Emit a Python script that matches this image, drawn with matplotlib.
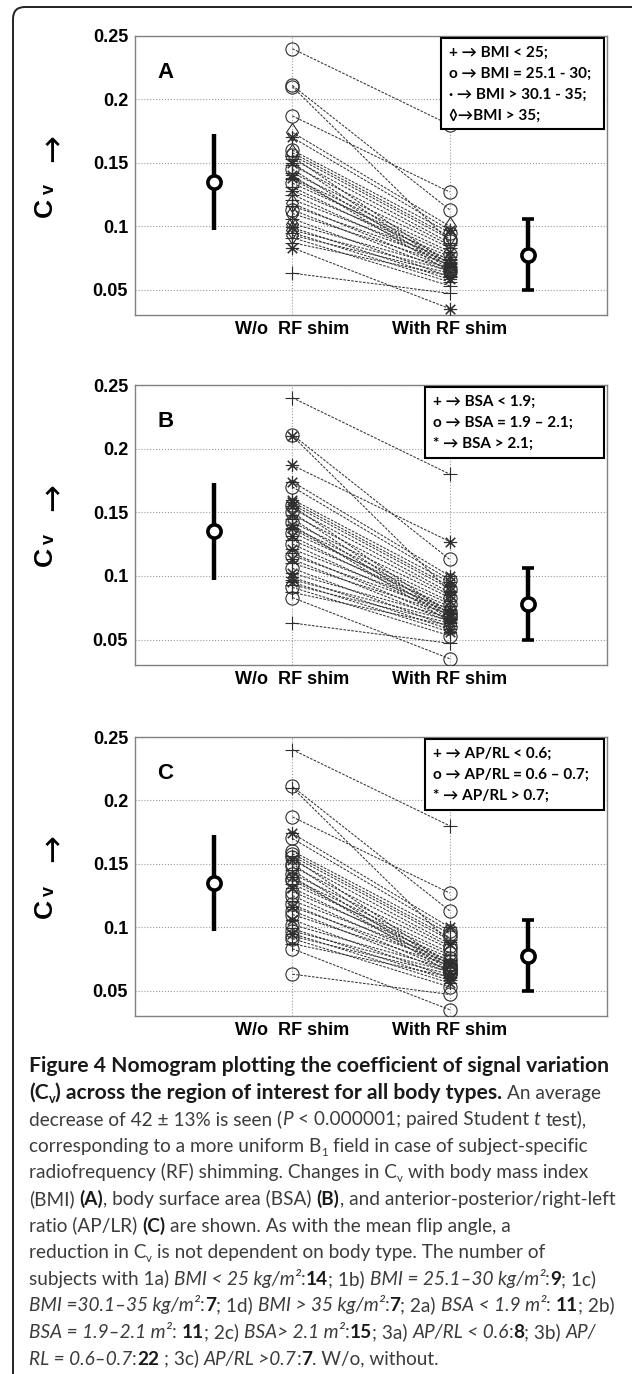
import matplotlib
matplotlib.use("Agg")
import matplotlib.pyplot as plt
from matplotlib.patches import FancyBboxPatch, Rectangle
from matplotlib.transforms import IdentityTransform
from matplotlib.font_manager import FontProperties

# C_v per subject (same 37 subjects in every panel)
cv_without = [0.240, 0.211, 0.210, 0.187, 0.174, 0.170, 0.160, 0.158, 0.156, 0.155,
              0.153, 0.150, 0.148, 0.145, 0.142, 0.140, 0.138, 0.137, 0.134, 0.131,
              0.128, 0.125, 0.121, 0.118, 0.116, 0.113, 0.110, 0.106, 0.102, 0.099,
              0.097, 0.095, 0.093, 0.091, 0.087, 0.083, 0.063]
cv_with = [0.180, 0.113, 0.088, 0.127, 0.100, 0.097, 0.095, 0.092, 0.090, 0.070,
           0.087, 0.068, 0.085, 0.066, 0.083, 0.064, 0.080, 0.073, 0.078, 0.071,
           0.076, 0.069, 0.074, 0.066, 0.072, 0.064, 0.070, 0.060, 0.067, 0.058,
           0.065, 0.056, 0.063, 0.053, 0.061, 0.035, 0.047]

# marker group of each subject per panel ('*' = MATLAB-style asterisk)
bmi_group = ['o', 'o', 'o', 'o', 'd', '*', 'o', 'd', 'o', '+', '+', '*', '+', 'o', '+', '*', '*', '+', 'o',
             '+', '*', '+', '+', 'd', '+', 'o', 'd', '+', 'd', '*', 'd', '+', 'd', '+', '+', '*', '+']
bsa_group = ['+', 'o', '*', '*', '*', 'o', '*', '*', 'o', '*', '+', 'o', '*', '+', 'o', '*', '*', '+', 'o',
             '*', '+', 'o', '*', '+', 'o', '*', '+', 'o', '*', '*', '+', '*', '+', 'o', '+', 'o', '+']
aprl_group = ['+', 'o', '+', 'o', '*', 'o', 'o', 'o', '+', 'o', '*', 'o', 'o', '+', 'o', '*', 'o', 'o', '+',
              '*', 'o', 'o', '+', 'o', '*', 'o', 'o', '*', 'o', '+', 'o', '*', 'o', 'o', '+', 'o', 'o']

# group summary (mean, lower, upper)
summary_without = (0.135, 0.097, 0.173)
summary_with = (0.0776, 0.050, 0.106)

conditions = ["W/o  RF shim", "With RF shim"]
yticks = [0.05, 0.1, 0.15, 0.2, 0.25]
ytick_labels = ["0.05", "0.1", "0.15", "0.2", "0.25"]

legend_bmi = ["+ \u2192 BMI < 25;", "o \u2192 BMI = 25.1 - 30;", "\u00b7 \u2192 BMI > 30.1 - 35;", "\u25ca\u2192BMI > 35;"]
legend_bsa = ["+ \u2192 BSA < 1.9;", "o \u2192 BSA = 1.9 \u2013 2.1;", "* \u2192 BSA > 2.1;"]
legend_aprl = ["+ \u2192 AP/RL < 0.6;", "o \u2192 AP/RL = 0.6 \u2013 0.7;", "* \u2192 AP/RL > 0.7;"]

# caption runs: H = bold heading, b = inline bold, r = regular, i = italic, *sub = subscript
caption = [
    [("Figure 4 Nomogram plotting the coefficient of signal variation", "H")],
    [("(C", "H"), ("v", "Hsub"), (") across the region of interest for all body types.", "H"), (" An average", "r")],
    [("decrease of 42 \u00b1 13% is seen (", "r"), ("P", "i"), (" < 0.000001; paired Student ", "r"),
     ("t", "i"), (" test),", "r")],
    [("corresponding to a more uniform B", "r"), ("1", "rsub"), (" field in case of subject-specific", "r")],
    [("radiofrequency (RF) shimming. Changes in C", "r"), ("v", "rsub"), (" with body mass index", "r")],
    [("(BMI) ", "r"), ("(A)", "b"), (", body surface area (BSA) ", "r"), ("(B)", "b"),
     (", and anterior-posterior/right-left", "r")],
    [("ratio (AP/LR) ", "r"), ("(C)", "b"), (" are shown. As with the mean flip angle, a", "r")],
    [("reduction in C", "r"), ("v", "rsub"), (" is not dependent on body type. The number of", "r")],
    [("subjects with 1a) ", "r"), ("BMI < 25 kg/m\u00b2", "i"), (":", "r"), ("14", "b"), ("; 1b) ", "r"),
     ("BMI = 25.1\u201330 kg/m\u00b2", "i"), (":", "r"), ("9", "b"), ("; 1c)", "r")],
    [("BMI =30.1\u201335 kg/m\u00b2", "i"), (":", "r"), ("7", "b"), ("; 1d) ", "r"), ("BMI > 35 kg/m\u00b2", "i"),
     (":", "r"), ("7", "b"), ("; 2a) ", "r"), ("BSA < 1.9 m\u00b2", "i"), (": ", "r"), ("11", "b"), ("; 2b)", "r")],
    [("BSA = 1.9\u20132.1 m\u00b2", "i"), (": ", "r"), ("11", "b"), ("; 2c) ", "r"), ("BSA> 2.1 m\u00b2", "i"),
     (":", "r"), ("15", "b"), ("; 3a) ", "r"), ("AP/RL < 0.6", "i"), (":", "r"), ("8", "b"), ("; 3b) ", "r"),
     ("AP/", "i")],
    [("RL = 0.6\u20130.7", "i"), (":", "r"), ("22", "b"), (" ; 3c) ", "r"), ("AP/RL >0.7", "i"), (":", "r"),
     ("7", "b"), (". W/o, without.", "r")],
]

W, H = 632, 1374
fig = plt.figure(figsize=(W / 100, H / 100), dpi=100)

AX_FONT = ["Liberation Sans", "DejaVu Sans"]
LEG_FONT = ["Lato", "DejaVu Sans"]
MARKERS = {"o": "o", "+": "+", "d": "d", "*": (8, 2, 0)}

# (top px, bottom px, groups, legend, box, text x, letter)
panels = [
    (36, 315, bmi_group, legend_bmi, (0.648, 0.667, 0.346, 0.326), 0.665, "A"),
    (385, 665, bsa_group, legend_bsa, (0.614, 0.739, 0.380, 0.254), 0.631, "B"),
    (737, 1016, aprl_group, legend_aprl, (0.614, 0.739, 0.380, 0.254), 0.631, "C"),
]

for top, bot, groups, leg, box, tx, letter in panels:
    ax = fig.add_axes([135 / W, 1 - bot / H, 472 / W, (bot - top) / H])
    ax.set_xlim(0, 3)
    ax.set_ylim(0.03, 0.25)

    for b, a in zip(cv_without, cv_with):
        ax.plot([1, 2], [b, a], ls=(0, (2.5, 1.3)), lw=0.75, color="#333333", zorder=2)
    for m in sorted(set(groups)):
        yb = [v for v, g in zip(cv_without, groups) if g == m]
        ya = [v for v, g in zip(cv_with, groups) if g == m]
        ax.plot([1] * len(yb) + [2] * len(ya), yb + ya, ls="none", marker=MARKERS[m], ms=9.5,
                mfc="none", mec="#2e2e2e", mew=0.8, zorder=3)

    for xpos, (mu, lo, hi), cap in ((0.5, summary_without, 0), (2.5, summary_with, 4.5)):
        ax.errorbar([xpos], [mu], yerr=[[mu - lo], [hi - mu]], fmt="o", ms=9.5, mfc="white",
                    mec="black", mew=2.6, ecolor="black", elinewidth=3.2, capsize=cap,
                    capthick=3, zorder=4)

    ax.set_xticks([1, 2])
    ax.set_xticklabels(conditions)
    ax.set_yticks(yticks)
    ax.set_yticklabels(ytick_labels)
    for lab in ax.get_xticklabels() + ax.get_yticklabels():
        lab.set_family(AX_FONT)
        lab.set_fontweight("bold")
        lab.set_fontsize(13)
    ax.tick_params(axis="y", length=0, pad=5)
    ax.tick_params(axis="x", length=0, pad=4)
    ax.grid(True, ls=":", color="#9a9a9a", lw=0.8, zorder=1)
    for sp in ax.spines.values():
        sp.set_color("#808080")
        sp.set_linewidth(1.0)

    ax.text(0.047, 0.85, letter, transform=ax.transAxes, fontsize=16, fontweight="bold",
            family=AX_FONT, ha="left", va="baseline")

    x0, y0, bw, bh = box
    ax.add_patch(Rectangle((x0, y0), bw, bh, transform=ax.transAxes, fc="white",
                           ec="black", lw=1.5, zorder=5, clip_on=False))
    for i, s in enumerate(leg):
        ax.text(tx, y0 + bh - 0.054 - i * 0.075, s, transform=ax.transAxes, fontsize=11,
                fontweight="bold", family=LEG_FONT, ha="left", va="center", zorder=6)

    # y label: C_v with arrow, rotated
    cy = (top + bot) / 2
    fig.text(45 / W, 1 - (cy + 32) / H, "C", rotation=90, ha="center", va="center",
             fontsize=19, fontweight="bold", family=AX_FONT)
    fig.text(49 / W, 1 - (cy + 14) / H, "v", rotation=90, ha="center", va="center",
             fontsize=13, fontweight="bold", family=AX_FONT)
    fig.text(53 / W, 1 - (cy - 28) / H, "\u2192", rotation=90, ha="center", va="center",
             fontsize=24, family=["DejaVu Sans"])

# caption, drawn run by run
renderer = fig.canvas.get_renderer()
styles = {
    "r": dict(weight="normal", style="normal", color="#3c3c3c", size=13.7),
    "b": dict(weight="bold", style="normal", color="#1a1a1a", size=13.7),
    "H": dict(weight="bold", style="normal", color="#1a1a1a", size=15.2),
    "i": dict(weight="normal", style="italic", color="#3c3c3c", size=13.7),
}


def make_prop(style):
    base = style.replace("sub", "")
    st = styles[base]
    size = st["size"] * 0.6 if style.endswith("sub") else st["size"]
    return FontProperties(family=["Lato", "DejaVu Sans"], weight=st["weight"],
                          style=st["style"], size=size), st["color"]


def advance(s, prop):
    w1 = renderer.get_text_width_height_descent("|" + s + "|", prop, ismath=False)[0]
    w0 = renderer.get_text_width_height_descent("||", prop, ismath=False)[0]
    return w1 - w0


for n, line in enumerate(caption):
    x = 29.0
    base_y = 1072 + n * 26.6
    for s, style in line:
        prop, color = make_prop(style)
        y = base_y + (4 if style.endswith("sub") else 0)
        lead = len(s) - len(s.lstrip(" "))
        body = s.strip(" ")
        xd = x + (advance(" " * lead, prop) if lead else 0)
        if body:
            fig.text(xd / W, 1 - y / H, body, fontproperties=prop, color=color,
                     ha="left", va="baseline")
        x += advance(s, prop)

# rounded frame around the figure, running off the right and bottom edges
frame = FancyBboxPatch((13, -60), 700, (H - 7) + 60, boxstyle="round,pad=0,rounding_size=12",
                       transform=IdentityTransform(), fc="none", ec="#222222", lw=1.4)
fig.add_artist(frame)

fig.savefig("out.png", dpi=100)
